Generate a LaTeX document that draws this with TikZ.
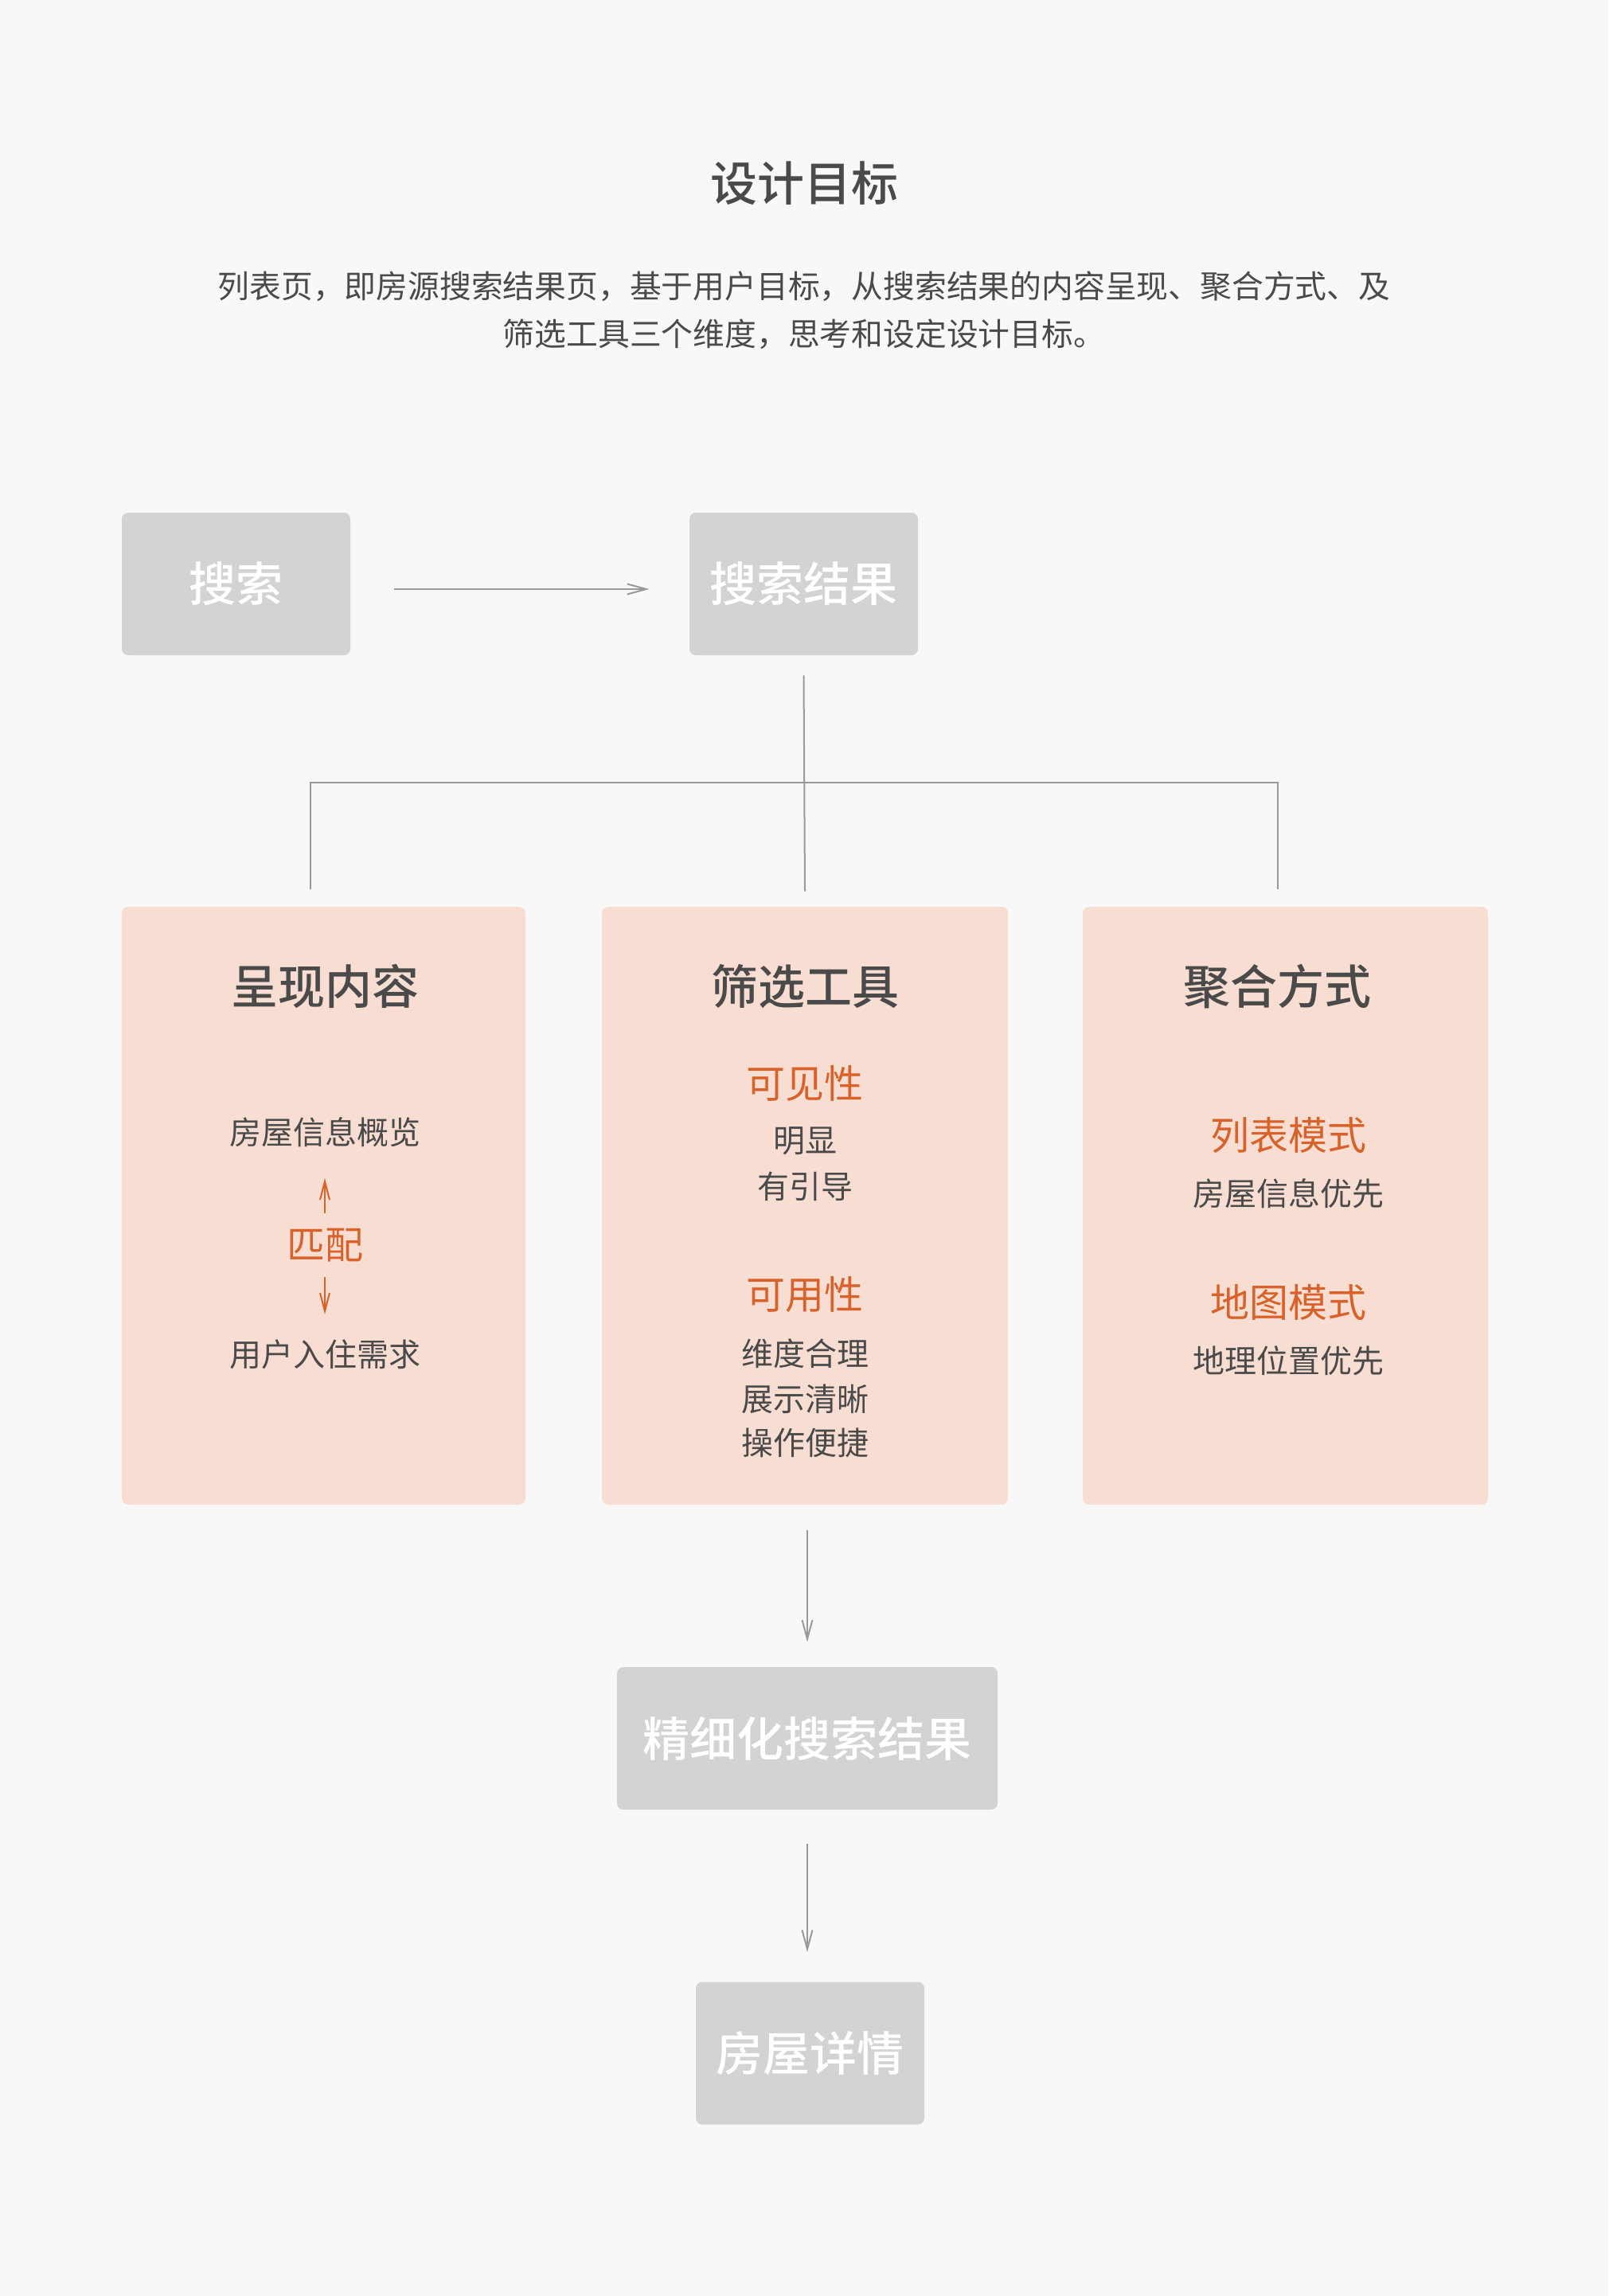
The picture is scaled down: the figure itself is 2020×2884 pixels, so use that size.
\documentclass[tikz,border=0pt]{standalone}
\usepackage{fontspec}
\setmainfont{Noto Sans CJK SC}
\newfontfamily\medfont{Noto Sans CJK SC Medium}
\usetikzlibrary{arrows.meta}
\definecolor{bgc}{HTML}{F8F8F8}
\definecolor{grayboxc}{HTML}{D3D3D3}
\definecolor{pinkc}{HTML}{F8DED2}
\definecolor{darkc}{HTML}{4A4A4A}
\definecolor{orangec}{HTML}{D9622B}
\definecolor{linec}{HTML}{9A9A9A}
\newcommand{\bigfont}{\fontsize{29.5}{35}\selectfont}
\newcommand{\midfont}{\fontsize{24.5}{29}\selectfont}
\newcommand{\smallfont}{\fontsize{20}{24}\selectfont}
\begin{document}
\begin{tikzpicture}[x=0.5pt,y=-0.5pt,
  graybox/.style={fill=grayboxc, rounded corners=4pt, minimum height=89.5pt, inner sep=0pt, text=white, font=\bigfont\medfont},
  pinkbox/.style={fill=pinkc, rounded corners=4pt, minimum height=375.5pt, inner sep=0pt},
  headtxt/.style={text=darkc, font=\bigfont\medfont, inner sep=0pt},
  subtxt/.style={text=orangec, font=\midfont, inner sep=0pt},
  bodytxt/.style={text=darkc, font=\smallfont, inner sep=0pt},
  conn/.style={draw=linec, line width=1pt},
  garrow/.style={draw=linec, line width=1pt, -{Straight Barb[length=12pt,width=6.5pt]}},
  oarrow/.style={draw=orangec, line width=1pt, -{Straight Barb[length=11.5pt,width=6pt]}}
]
\fill[bgc] (0,0) rectangle (2020,2884);
\useasboundingbox (0,0) rectangle (2020,2884);

% title and intro
\node[headtxt] (title) at (1010,230) {设计目标};
\node[text=darkc, font=\fontsize{19.9}{30}\selectfont, align=center, inner sep=0pt] (intro) at (1010,390)
  {列表页，即房源搜索结果页，基于用户目标，从搜索结果的内容呈现、聚合方式、及\\筛选工具三个维度，思考和设定设计目标。};

% top gray boxes
\node[graybox, minimum width=143.5pt] (search) at (296.5,733.5) {搜索};
\node[graybox, minimum width=143.5pt] (result) at (1009.5,733.5) {搜索结果};
\draw[garrow, shorten <=27.5pt, shorten >=25pt] ([yshift=-3.25pt]search.east) -- ([yshift=-3.25pt]result.west);

% pink boxes
\node[pinkbox, minimum width=253.5pt] (b1) at (406.5,1514.5) {};
\node[pinkbox, minimum width=255pt] (b2) at (1011,1514.5) {};
\node[pinkbox, minimum width=254.5pt] (b3) at (1614.5,1514.5) {};

% tree connector
\coordinate (hl) at (390,983);
\coordinate (hr) at (1605,983);
\coordinate (l1) at (390,1117);
\coordinate (l3) at (1605,1117);
\draw[conn] ([yshift=-12.5pt]result.south) -- ([yshift=9.5pt]b2.north);
\draw[conn] (l1) -- (hl) -- (hr) -- (l3);

% box 1
\node[headtxt] (h1) at (408,1239) {呈现内容};
\node[bodytxt] (info) at (408,1422) {房屋信息概览};
\node[subtxt, font=\fontsize{24}{28}\selectfont] (match) at (408,1564) {匹配};
\node[bodytxt] (need) at (408,1701) {用户入住需求};
\draw[oarrow, shorten <=20pt, shorten >=29pt] (match.center) -- (info.center);
\draw[oarrow, shorten <=20pt, shorten >=25pt] (match.center) -- (need.center);

% box 2
\node[headtxt] (h2) at (1011,1239) {筛选工具};
\node[subtxt] (vis) at (1011,1361) {可见性};
\node[bodytxt] (v1) at (1011,1433) {明显};
\node[bodytxt] (v2) at (1011,1490) {有引导};
\node[subtxt] (use) at (1011,1626) {可用性};
\node[bodytxt] (u1) at (1011,1700) {维度合理};
\node[bodytxt] (u2) at (1011,1757) {展示清晰};
\node[bodytxt] (u3) at (1011,1812) {操作便捷};

% box 3
\node[headtxt] (h3) at (1604,1239) {聚合方式};
\node[subtxt] (list) at (1618,1426) {列表模式};
\node[bodytxt] (l1t) at (1618,1499) {房屋信息优先};
\node[subtxt] (map) at (1618,1636) {地图模式};
\node[bodytxt] (m1t) at (1618,1709) {地理位置优先};

% lower gray boxes
\node[graybox, minimum width=239pt] (fine) at (1014,2183.5) {精细化搜索结果};
\node[graybox, minimum width=143.5pt] (detail) at (1017.5,2579) {房屋详情};
\draw[garrow, shorten <=16pt, shorten >=15.5pt] (fine.north |- b2.south) -- (fine.north);
\draw[garrow, shorten <=21.5pt, shorten >=18.5pt] (fine.south) -- (fine.south |- detail.north);
\end{tikzpicture}
\end{document}
